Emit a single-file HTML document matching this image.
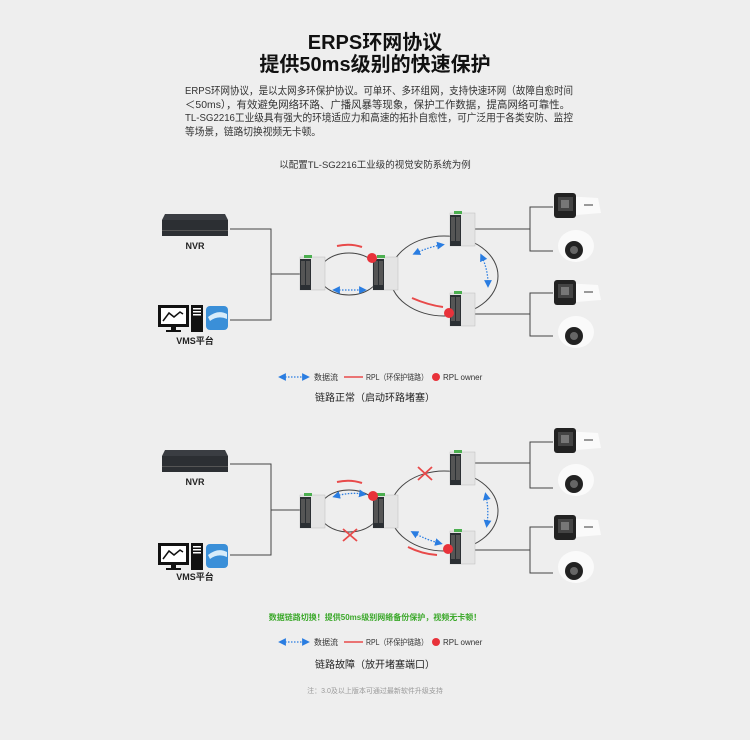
<!DOCTYPE html>
<html><head><meta charset="utf-8"><style>
html,body{margin:0;padding:0;background:#eeeeee;}
svg{display:block;font-family:"Liberation Sans","Noto Sans CJK SC",sans-serif;}
</style></head><body>
<svg width="750" height="740" viewBox="0 0 750 740" xmlns="http://www.w3.org/2000/svg">
<defs>
<marker id="ah" markerWidth="6" markerHeight="6" refX="3" refY="3" orient="auto"><path d="M0,0 L6,3 L0,6 z" fill="#2a7de1"/></marker>
<marker id="at" markerWidth="6" markerHeight="6" refX="3" refY="3" orient="auto-start-reverse"><path d="M0,0 L6,3 L0,6 z" fill="#2a7de1"/></marker>
<g id="sw">
<rect x="0" y="0" width="25" height="33" fill="#e4e4e4" stroke="#bbb" stroke-width="0.5"/>
<rect x="0" y="2" width="11" height="31" fill="#2b2f33"/>
<rect x="1" y="4" width="4" height="24" fill="#555" />
<rect x="6" y="4" width="4" height="24" fill="#555" />
<rect x="4" y="-2" width="8" height="3" fill="#4caf50"/>
</g>
<g id="nvr">
<path d="M3,0 L63,0 L66,6 L0,6 z" fill="#3a3d42"/>
<rect x="0" y="6" width="66" height="16" fill="#2c2f33"/>
<rect x="0" y="16" width="66" height="1" fill="#555"/>
</g>
<g id="vms">
<rect x="0" y="0" width="31" height="22" fill="#111"/>
<rect x="3" y="3" width="25" height="16" fill="#fff"/>
<polyline points="5,16 11,8 16,12 22,7 25,9" fill="none" stroke="#111" stroke-width="1.5"/>
<rect x="13" y="22" width="5" height="3" fill="#111"/>
<rect x="8" y="25" width="15" height="2" fill="#111"/>
<rect x="33" y="0" width="12" height="27" fill="#111"/>
<rect x="35" y="3" width="8" height="1.5" fill="#fff"/><rect x="35" y="6" width="8" height="1.5" fill="#fff"/><rect x="35" y="9" width="8" height="1.5" fill="#fff"/>
<rect x="48" y="1" width="22" height="24" rx="4" fill="#3a8fd8"/>
<path d="M50,12 Q60,4 69,9 L69,14 Q60,10 52,16 z" fill="#d7ecfa"/>
</g>
<g id="bullet">
<path d="M10,3 L44,5 L47,20 L10,23 z" fill="#fafafa"/>
<rect x="0" y="0" width="22" height="25" rx="3" fill="#222"/>
<rect x="4" y="4" width="15" height="14" fill="#444"/>
<rect x="7" y="7" width="8" height="8" fill="#777"/>
<rect x="30" y="11" width="9" height="2" fill="#999"/>
</g>
<g id="dome">
<ellipse cx="21" cy="17" rx="18" ry="16" fill="#fafafa"/>
<circle cx="19" cy="21" r="9" fill="#222"/>
<circle cx="19" cy="21" r="4" fill="#666"/>
</g>
</defs>
<rect width="750" height="740" fill="#eeeeee"/>

<text x="375" y="49" font-size="20" font-weight="bold" text-anchor="middle" fill="#111">ERPS环网协议</text>
<text x="375" y="71" font-size="20" font-weight="bold" text-anchor="middle" fill="#111">提供50ms级别的快速保护</text>
<g font-size="10.5" fill="#333">
<text x="185" y="94" textLength="388" lengthAdjust="spacingAndGlyphs">ERPS环网协议，是以太网多环保护协议。可单环、多环组网，支持快速环网（故障自愈时间</text>
<text x="185" y="108" textLength="385" lengthAdjust="spacingAndGlyphs">＜50ms），有效避免网络环路、广播风暴等现象，保护工作数据，提高网络可靠性。</text>
<text x="185" y="121" textLength="388" lengthAdjust="spacingAndGlyphs">TL-SG2216工业级具有强大的环境适应力和高速的拓扑自愈性，可广泛用于各类安防、监控</text>
<text x="185" y="135" textLength="136" lengthAdjust="spacingAndGlyphs">等场景，链路切换视频无卡顿。</text>
</g>
<text x="375" y="168" font-size="9.5" text-anchor="middle" fill="#333">以配置TL-SG2216工业级的视觉安防系统为例</text>

<!-- Diagram 1 -->
<g>
<use href="#nvr" x="162" y="214"/>
<text x="195" y="249" font-size="9" font-weight="bold" text-anchor="middle" fill="#222">NVR</text>
<use href="#vms" x="158" y="305"/>
<text x="195" y="344" font-size="9" font-weight="bold" text-anchor="middle" fill="#222">VMS平台</text>
<g stroke="#444" stroke-width="1" fill="none">
<polyline points="230,229 271,229 271,320 230,320"/>
<line x1="271" y1="274" x2="300" y2="274"/>
<ellipse cx="349" cy="274" rx="30" ry="21"/>
<ellipse cx="444" cy="276" rx="54" ry="40"/>
<polyline points="475,229 530,229"/><polyline points="553,207 530,207 530,251 553,251"/>
<polyline points="475,314 530,314"/><polyline points="553,293 530,293 530,336 553,336"/>
</g>
<use href="#sw" x="300" y="257"/><use href="#sw" x="373" y="257"/>
<use href="#sw" x="450" y="213"/><use href="#sw" x="450" y="293"/>
<path d="M337,246 Q350,243 362,247" stroke="#e84a4a" stroke-width="2" fill="none"/>
<path d="M412,298 Q428,305 443,307" stroke="#e84a4a" stroke-width="2" fill="none"/>
<circle cx="372" cy="258" r="5" fill="#e8323a"/>
<circle cx="449" cy="313" r="5" fill="#e8323a"/>
<g stroke="#2a7de1" stroke-width="1.3" stroke-dasharray="1.5,1.5" fill="none" marker-start="url(#at)" marker-end="url(#ah)">
<line x1="336" y1="290" x2="363" y2="290"/>
<path d="M416,253 Q429,247 441,245"/>
<path d="M482,257 Q488,270 488,284"/>
</g>
<use href="#bullet" x="554" y="193"/><use href="#dome" x="555" y="229"/>
<use href="#bullet" x="554" y="280"/><use href="#dome" x="555" y="315"/>
</g>
<g font-size="8" fill="#333">
<line x1="282" y1="377" x2="306" y2="377" stroke="#2a7de1" stroke-width="1.3" stroke-dasharray="1.5,1.5" marker-start="url(#at)" marker-end="url(#ah)"/>
<text x="314" y="380">数据流</text>
<line x1="344" y1="377" x2="363" y2="377" stroke="#e84a4a" stroke-width="1.5"/>
<text x="366" y="380" textLength="62" lengthAdjust="spacingAndGlyphs">RPL（环保护链路）</text>
<circle cx="436" cy="377" r="4" fill="#e8323a"/>
<text x="443" y="380">RPL owner</text>
</g>
<text x="375" y="401" font-size="10" text-anchor="middle" fill="#222">链路正常（启动环路堵塞）</text>

<!-- Diagram 2 -->
<g>
<use href="#nvr" x="162" y="450"/>
<text x="195" y="485" font-size="9" font-weight="bold" text-anchor="middle" fill="#222">NVR</text>
<use href="#vms" x="158" y="543"/>
<text x="195" y="580" font-size="9" font-weight="bold" text-anchor="middle" fill="#222">VMS平台</text>
<g stroke="#444" stroke-width="1" fill="none">
<polyline points="230,464 271,464 271,555 230,555"/>
<line x1="271" y1="510" x2="300" y2="510"/>
<ellipse cx="349" cy="511" rx="30" ry="21"/>
<ellipse cx="444" cy="511" rx="54" ry="40"/>
<polyline points="475,463 530,463"/><polyline points="553,442 530,442 530,488 553,488"/>
<polyline points="475,550 530,550"/><polyline points="553,527 530,527 530,573 553,573"/>
</g>
<use href="#sw" x="300" y="495"/><use href="#sw" x="373" y="495"/>
<use href="#sw" x="450" y="452"/><use href="#sw" x="450" y="531"/>
<path d="M337,482 Q350,479 362,483" stroke="#e84a4a" stroke-width="2" fill="none"/>
<path d="M408,547 Q422,554 437,555" stroke="#e84a4a" stroke-width="2" fill="none"/>
<circle cx="373" cy="496" r="5" fill="#e8323a"/>
<circle cx="448" cy="549" r="5" fill="#e8323a"/>
<g stroke="#e84a4a" stroke-width="1.8">
<line x1="343" y1="529" x2="357" y2="541"/><line x1="357" y1="529" x2="343" y2="541"/>
<line x1="418" y1="467" x2="432" y2="480"/><line x1="432" y1="467" x2="418" y2="480"/>
</g>
<g stroke="#2a7de1" stroke-width="1.3" stroke-dasharray="1.5,1.5" fill="none" marker-start="url(#at)" marker-end="url(#ah)">
<path d="M336,496 Q350,492 363,494"/>
<path d="M486,496 Q489,510 487,524"/>
<path d="M414,533 Q427,540 439,543"/>
</g>
<use href="#bullet" x="554" y="428"/><use href="#dome" x="555" y="463"/>
<use href="#bullet" x="554" y="515"/><use href="#dome" x="555" y="550"/>
</g>
<text x="375" y="620" font-size="8" font-weight="bold" text-anchor="middle" fill="#3aa829">数据链路切换！提供50ms级别网络备份保护，视频无卡顿！</text>
<g font-size="8" fill="#333">
<line x1="282" y1="642" x2="306" y2="642" stroke="#2a7de1" stroke-width="1.3" stroke-dasharray="1.5,1.5" marker-start="url(#at)" marker-end="url(#ah)"/>
<text x="314" y="645">数据流</text>
<line x1="344" y1="642" x2="363" y2="642" stroke="#e84a4a" stroke-width="1.5"/>
<text x="366" y="645" textLength="62" lengthAdjust="spacingAndGlyphs">RPL（环保护链路）</text>
<circle cx="436" cy="642" r="4" fill="#e8323a"/>
<text x="443" y="645">RPL owner</text>
</g>
<text x="375" y="668" font-size="10" text-anchor="middle" fill="#222">链路故障（放开堵塞端口）</text>
<text x="375" y="693" font-size="7" text-anchor="middle" fill="#999">注：3.0及以上版本可通过最新软件升级支持</text>
</svg>
</body></html>
